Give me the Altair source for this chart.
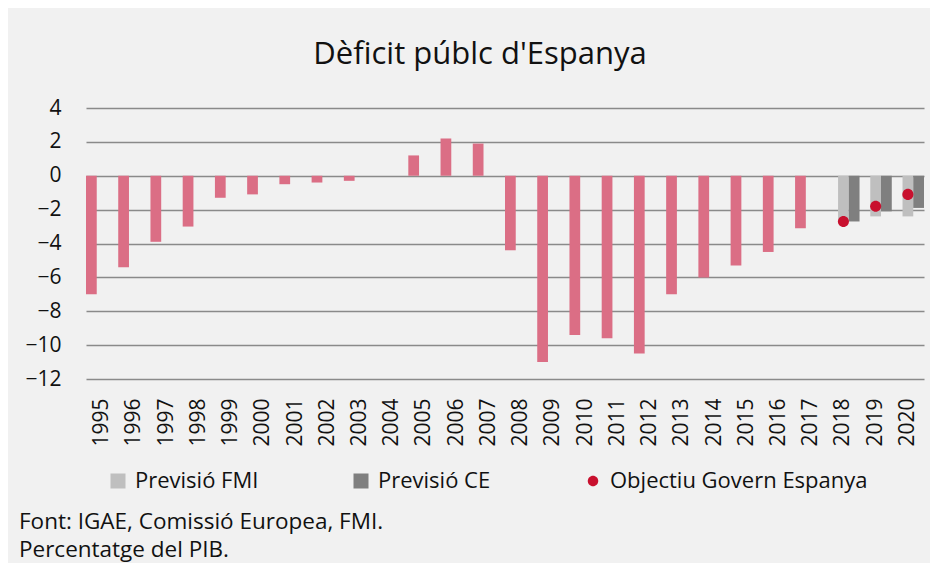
import altair as alt
import pandas as pd

FONT = "Open Sans"

all_years = [str(y) for y in range(1995, 2021)]
hist_years = [str(y) for y in range(1995, 2018)]
hist_values = [-7.0, -5.4, -3.9, -3.0, -1.3, -1.1, -0.5, -0.4, -0.3, 0.0, 1.2, 2.2, 1.9,
               -4.4, -11.0, -9.4, -9.6, -10.5, -7.0, -6.0, -5.3, -4.5, -3.1]
fc_years = ["2018", "2019", "2020"]
fmi_values = [-2.7, -2.4, -2.4]
ce_values = [-2.7, -2.1, -1.9]
obj_values = [-2.7, -1.8, -1.1]

offset_order = ["Històric", "Previsió FMI", "Previsió CE"]
legend_order = ["Previsió FMI", "Previsió CE", "Objectiu Govern Espanya"]
legend_colors = ["#bfbfbf", "#7f7f7f", "#c8102e"]
circle_path = "M0,-0.7A0.7,0.7 0 1,1 0,0.7A0.7,0.7 0 1,1 0,-0.7Z"

hist_df = pd.DataFrame({"year": hist_years, "value": hist_values, "serie": "Històric"})
fc_df = pd.DataFrame({
    "year": fc_years * 2,
    "value": fmi_values + ce_values,
    "serie": ["Previsió FMI"] * 3 + ["Previsió CE"] * 3,
})
obj_df = pd.DataFrame({"year": fc_years, "value": obj_values,
                       "serie": "Objectiu Govern Espanya", "off": "Previsió FMI"})
notes_df = pd.DataFrame({"t": ["Font: IGAE, Comissió Europea, FMI.\nPercentatge del PIB."]})

x_enc = alt.X("year:O", scale=alt.Scale(domain=all_years, paddingInner=0, paddingOuter=0),
              axis=alt.Axis(title=None, labelAngle=-90, labelFontSize=21, ticks=False,
                            domain=False, labelPadding=19, labelColor="#111111"))
y_enc = alt.Y("value:Q", scale=alt.Scale(domain=[-12, 4], nice=False),
              axis=alt.Axis(title=None, values=list(range(-12, 5, 2)), grid=True, domain=False,
                            ticks=False, labelPadding=25, labelFontSize=21,
                            labelColor="#111111", gridColor="#8a8a8a", gridWidth=1.6))
off_scale = alt.Scale(domain=offset_order, paddingInner=0, paddingOuter=0)

legend_params = dict(title=None, orient="none", legendX=21, legendY=362,
                     direction="horizontal", columnPadding=91, symbolSize=225,
                     labelFontSize=22, labelFont=FONT, labelColor="#111111",
                     labelOffset=6, labelLimit=0, symbolStrokeWidth=0, padding=0)

color_enc = alt.Color("serie:N", scale=alt.Scale(domain=legend_order, range=legend_colors),
                      legend=alt.Legend(**legend_params))

bars_hist = alt.Chart(hist_df).mark_bar(color="#db6e85").encode(
    x=x_enc, xOffset=alt.XOffset("serie:N", scale=off_scale), y=y_enc)

bars_fc = alt.Chart(fc_df).mark_bar().encode(
    x=x_enc, xOffset=alt.XOffset("serie:N", scale=off_scale), y=y_enc, color=color_enc)

points = alt.Chart(obj_df).mark_point(filled=True, opacity=1, size=250).encode(
    x=x_enc, xOffset=alt.XOffset("off:N", scale=off_scale), y=y_enc, color=color_enc,
    shape=alt.Shape("serie:N", scale=alt.Scale(domain=legend_order,
                                               range=["square", "square", circle_path]),
                    legend=alt.Legend(**legend_params)))

notes = alt.Chart(notes_df).mark_text(align="left", baseline="alphabetic", fontSize=22.5,
                                      font=FONT, lineBreak="\n", lineHeight=28,
                                      color="#111111").encode(
    text="t:N", x=alt.value(-67), y=alt.value(421))

chart = alt.layer(bars_hist, bars_fc, points, notes).properties(
    width=838, height=271,
    autosize=alt.AutoSizeParams(type="none"),
    padding={"left": 78, "top": 100, "right": 6, "bottom": 184},
    title=alt.TitleParams("Dèficit públc d'Espanya", fontSize=31, font=FONT,
                          fontWeight="normal", anchor="middle", dx=-25, offset=26,
                          color="#111111"),
).configure(background="#f1f1f1").configure_view(stroke=None).configure_axis(
    labelFont=FONT).configure_text(font=FONT)

chart.save("out.html", embed_options={"renderer": "svg", "actions": False})
